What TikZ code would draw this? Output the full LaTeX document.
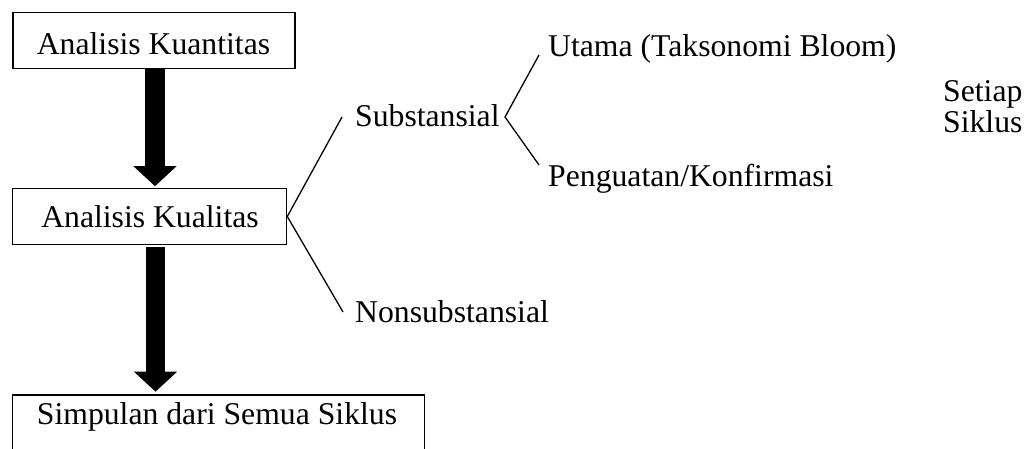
\documentclass[tikz,border=0pt]{standalone}
\usepackage{fontspec}
\setmainfont{Liberation Serif}
\usetikzlibrary{arrows.meta}
\newcommand{\fsz}{\fontsize{31.7}{38}\selectfont}
\tikzset{
  box/.style={draw, line width=1.6pt, inner sep=0pt},
  lbl/.style={anchor=base west, inner sep=0pt, font=\fsz},
  clbl/.style={anchor=base, inner sep=0pt, font=\fsz},
  bigarrow/.style={line width=20pt, -{Triangle[width=42pt,length=20pt]}},
  thin/.style={line width=1.3pt}
}
\begin{document}
\begin{tikzpicture}[x=1pt,y=-1pt]
\useasboundingbox (0,0) rectangle (1031,449);
\clip (0,0) rectangle (1031,449);
% boxes
\node[box, minimum width=282pt, minimum height=56pt] (kuan) at (154,40.5) {};
\node[clbl] (tkuan) at (153.5,54.5) {Analisis Kuantitas};
\node[box, minimum width=274pt, minimum height=56pt] (kual) at (149.5,216.5) {};
\node[clbl] (tkual) at (150,228) {Analisis Kualitas};
\node[box, minimum width=412pt, minimum height=76pt] (simp) at (218.5,433) {};
\node[clbl] (tsimp) at (217,424) {Simpulan dari Semua Siklus};
% thick arrows
\coordinate (ax) at (155,0);
\draw[bigarrow] (kuan.south -| ax) -- ([yshift=1.5pt]kual.north -| ax);
\coordinate (bx) at (155.5,0);
\draw[bigarrow, line width=19pt] ([yshift=-2pt]kual.south -| bx) -- ([yshift=2.5pt]simp.north -| bx);
% labels
\node[lbl] (sub) at (355,127) {Substansial};
\node[lbl] (non) at (355,322) {Nonsubstansial};
\node[lbl] (uta) at (548,57) {Utama (Taksonomi Bloom)};
\node[lbl] (pen) at (548,187) {Penguatan/Konfirmasi};
\node[lbl] (set) at (943,102) {Setiap};
\node[lbl] (sik) at (943,133) {Siklus};
% branch lines
\coordinate (s1) at (342,117);
\coordinate (n1) at (343,312);
\draw[thin] (s1) -- (kual.east) -- (n1);
\coordinate (v) at (505,117);
\coordinate (u1) at (539,55);
\coordinate (p1) at (539,165);
\draw[thin] (u1) -- (v) -- (p1);
\end{tikzpicture}
\end{document}
